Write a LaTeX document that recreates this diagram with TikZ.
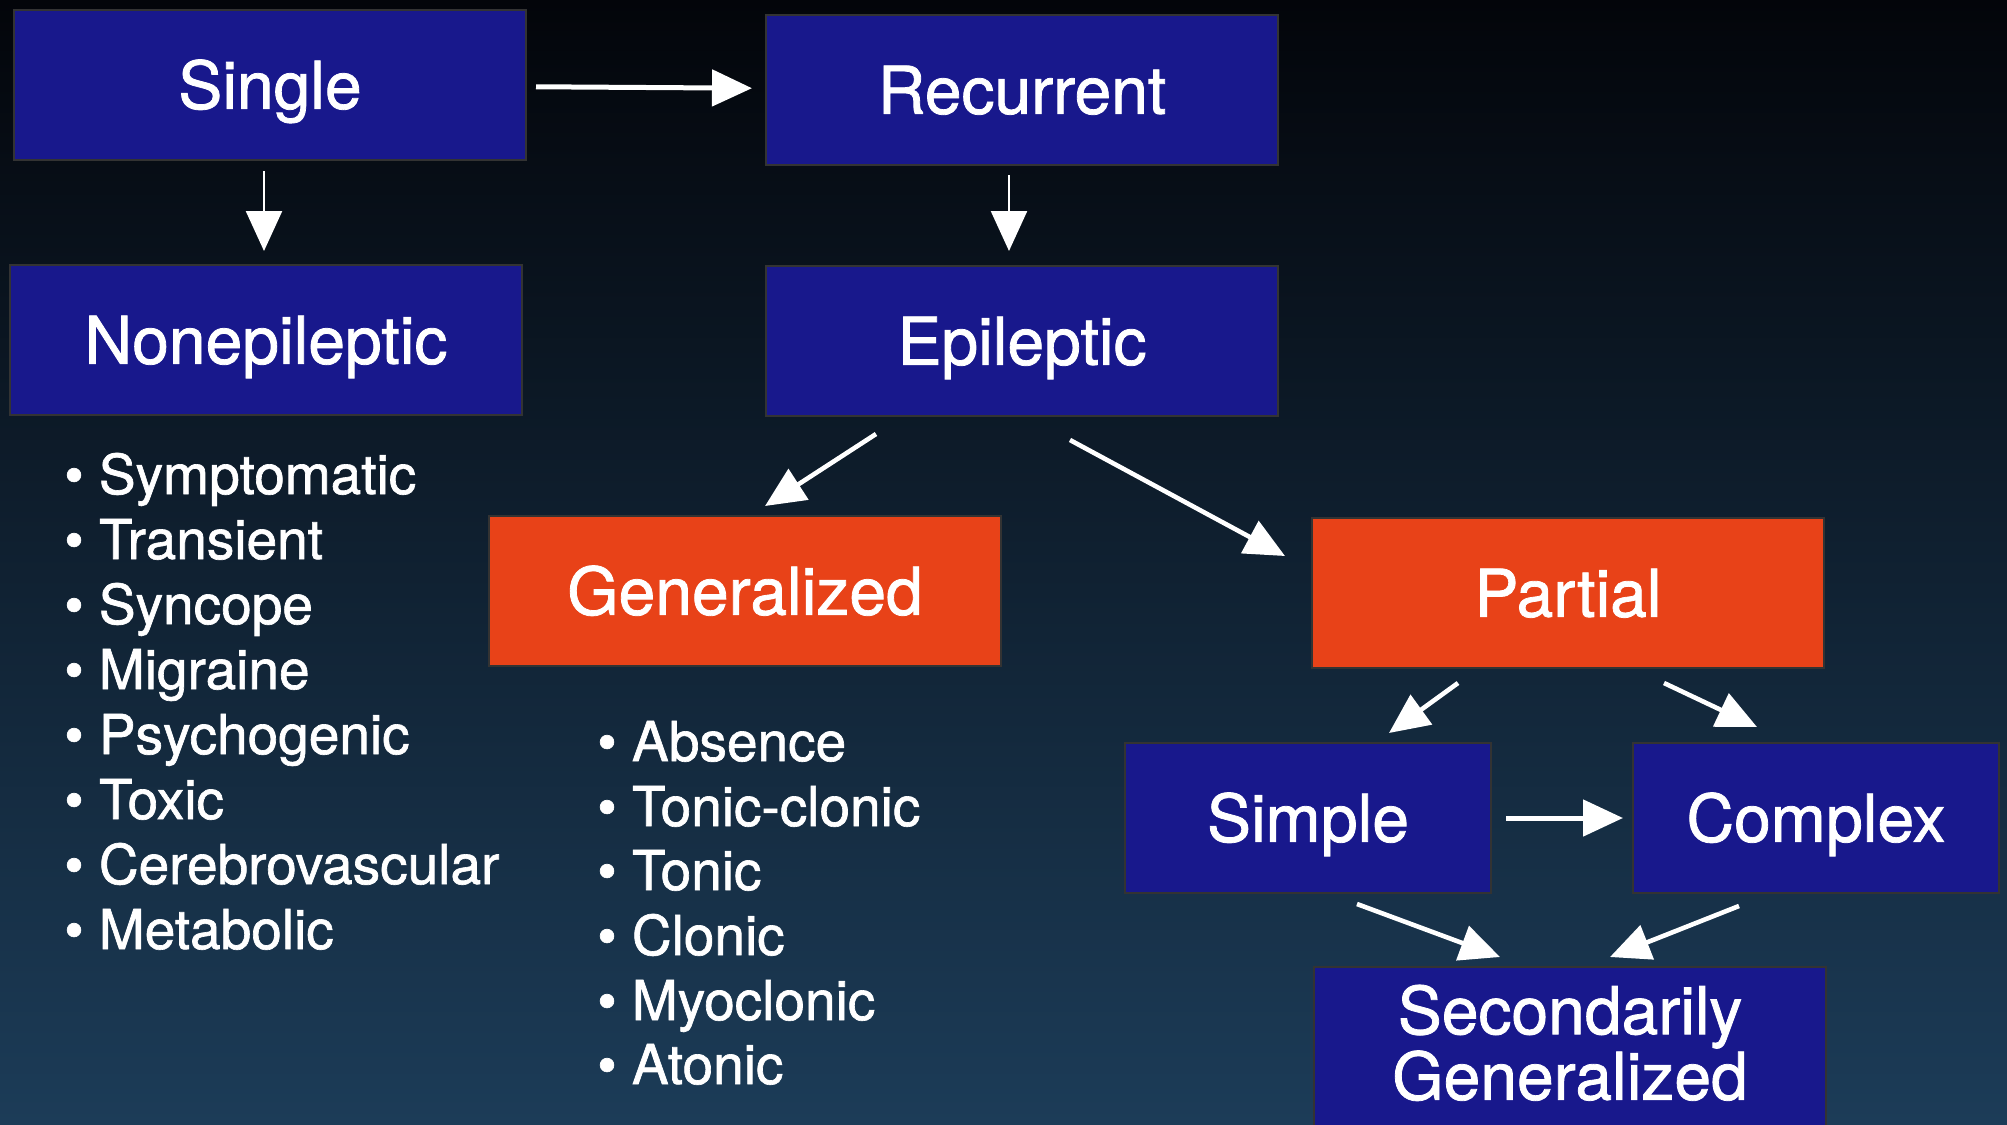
\documentclass[tikz,border=0pt]{standalone}
\usepackage{fontspec}
\setmainfont{TeX Gyre Heros}[FakeBold=1.2]
\usetikzlibrary{arrows.meta}

\definecolor{boxblue}{RGB}{24,24,140}
\definecolor{boxred}{RGB}{232,66,24}
\definecolor{bgtop}{RGB}{3,5,10}
\definecolor{bgmid}{RGB}{10,22,38}
\definecolor{bgbot}{RGB}{28,60,88}

\begin{document}
\begin{tikzpicture}[
    x=0.5pt, y=-0.5pt,
    % GLOBAL CFG
    font=\fontsize{33pt}{27pt}\selectfont,
    >={Triangle[length=20pt,width=18pt]},
    % Styles
    box/.style={% For the blue boxes
        rectangle,
        draw=black!80,
        line width=1pt,
        fill=boxblue,
        text=white,
        minimum width=256pt,
        minimum height=75pt,
        inner sep=0pt,
        text height=23.8pt,
        text depth=0pt,
        align=center,
        },
    hot/.style={% For the red boxes
        box,
        fill=boxred,
        },
    small/.style={% For the two boxes of the last row
        minimum width=183pt,
        },
    item/.style={% For the bullet lists
        anchor=base west,
        inner sep=0pt,
        text=white,
        font=\fontsize{27.5pt}{33pt}\selectfont,
        },
    arrow/.style={% White arrows
        ->,
        draw=white,
        fill=white,
        line width=2.3pt,
        },
    ]

    \useasboundingbox (0,0) rectangle (2007,1124);
    % Background
    \shade [top color=bgtop, middle color=bgmid, bottom color=bgbot] (0,0) rectangle (2007,1124);

    % Draw the boxes
    \node [box] (single) at (270,85) {Single};
    \node [box] (recurrent) at (1022,90) {Recurrent};
    \node [box] (nonep) at (266,340) {Nonepileptic};
    \node [box] (epileptic) at (1022,341) {Epileptic};
    \node [hot] (general) at (745,591) {Generalized};
    \node [hot] (partial) at (1568,593) {Partial};
    \node [box, small] (simple) at (1308,818) {Simple};
    \node [box, small] (complex) at (1816,818) {Complex};
    \node [box, minimum height=85pt, text height=50.8pt, text depth=3pt] (second) at (1570,1052) {Secondarily\\Generalized};

    % Nonepileptic list
    \node [item] (sympt) at (64,494) {• Symptomatic};
    \node [item] (trans) at (64,559) {• Transient};
    \node [item] (sync) at (64,624) {• Syncope};
    \node [item] (migr) at (64,689) {• Migraine};
    \node [item] (psych) at (64,754) {• Psychogenic};
    \node [item] (toxic) at (64,819) {• Toxic};
    \node [item] (cereb) at (64,884) {• Cerebrovascular};
    \node [item] (metab) at (64,949) {• Metabolic};

    % Generalized list
    \node [item] (absence) at (597,761) {• Absence};
    \node [item] (tonicl) at (597,826) {• Tonic-clonic};
    \node [item] (tonic) at (597,890) {• Tonic};
    \node [item] (clonic) at (597,955) {• Clonic};
    \node [item] (myoc) at (597,1020) {• Myoclonic};
    \node [item] (atonic) at (597,1084) {• Atonic};

% Start connecting all.
    \draw [arrow, line width=2.5pt, shorten <=4.5pt, shorten >=6.5pt] (single) -- (recurrent);
    \draw [arrow, line width=1.2pt, shorten <=5pt, shorten >=6.5pt] ([xshift=-3pt]single.south) -- ([xshift=-3pt]single.south |- nonep.north);
    \draw [arrow, line width=1.2pt, shorten <=4.5pt, shorten >=7pt] ([xshift=-6.5pt]recurrent.south) -- ([xshift=-6.5pt]recurrent.south |- epileptic.north);

    % Epileptic
    \draw [arrow] ([xshift=55.5pt,yshift=-8.5pt]epileptic.south west) -- ([xshift=10pt,yshift=4.5pt]general.north);
    \draw [arrow] ([xshift=152.5pt,yshift=-11.5pt]epileptic.south west) -- ([xshift=-13pt,yshift=-19.5pt]partial.north west);

    % Partial
    \draw [arrow] ([xshift=73.5pt,yshift=-7pt]partial.south west) -- ([xshift=40.5pt,yshift=4.5pt]simple.north);
    \draw [arrow] ([xshift=-80.5pt,yshift=-7pt]partial.south east) -- ([xshift=-29.5pt,yshift=7.5pt]complex.north);
    \draw [arrow, line width=2.5pt, shorten <=7pt, shorten >=4.5pt] (simple) -- (complex);
    \draw [arrow] ([xshift=24.5pt,yshift=-5pt]simple.south) -- ([xshift=-35pt,yshift=4.5pt]second.north);
    \draw [arrow] ([xshift=-38.5pt,yshift=-6pt]complex.south) -- ([xshift=20pt,yshift=4.5pt]second.north);
\end{tikzpicture}
\end{document}
